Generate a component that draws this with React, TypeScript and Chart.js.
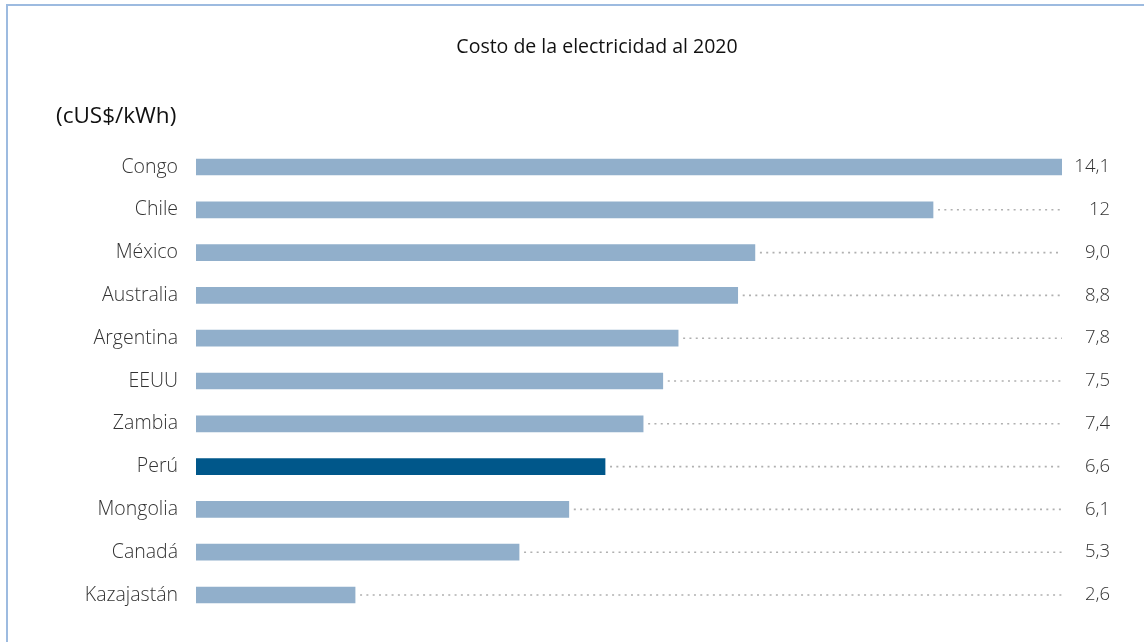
import React, { useEffect, useRef } from "react";
import { Chart, registerables } from "chart.js";

Chart.register(...registerables);

const titleText = "Costo de la electricidad al 2020";
const unitText = "(cUS$/kWh)";
const categories = ["Congo", "Chile", "México", "Australia", "Argentina", "EEUU", "Zambia", "Perú", "Mongolia", "Canadá", "Kazajastán"];
// bar lengths as drawn in the picture
const barValues = [14.1, 12.0, 9.1, 8.82, 7.85, 7.6, 7.28, 6.66, 6.07, 5.26, 2.59];
// printed value labels
const valueLabels = ["14,1", "12", "9,0", "8,8", "7,8", "7,5", "7,4", "6,6", "6,1", "5,3", "2,6"];
const highlight = "Perú";
const axisMax = 14.1;

const FONT = "'Open Sans', 'Segoe UI', 'Noto Sans', sans-serif";

export default function App() {
  const ref = useRef<HTMLCanvasElement | null>(null);
  useEffect(() => {
    if (!ref.current) return;
    const textPlugin = {
      id: "textPlugin",
      afterDatasetsDraw(chart: any) {
        const ctx = chart.ctx;
        const area = chart.chartArea;
        const meta = chart.getDatasetMeta(0);
        ctx.save();
        // dotted leader lines
        ctx.strokeStyle = "#b0b0b0";
        ctx.lineWidth = 1.6;
        ctx.setLineDash([2, 4.3]);
        meta.data.forEach((bar: any) => {
          const start = bar.x + 5;
          if (start < area.right - 2) {
            ctx.beginPath();
            ctx.moveTo(start, bar.y);
            ctx.lineTo(area.right, bar.y);
            ctx.stroke();
          }
        });
        ctx.setLineDash([]);
        // category labels
        ctx.fillStyle = "#333333";
        ctx.font = `300 19.5px ${FONT}`;
        ctx.textBaseline = "middle";
        ctx.textAlign = "right";
        meta.data.forEach((bar: any, i: number) => {
          ctx.fillText(categories[i], area.left - 18, bar.y);
        });
        // value labels
        ctx.font = `300 18.5px ${FONT}`;
        ctx.textAlign = "right";
        meta.data.forEach((bar: any, i: number) => {
          ctx.fillText(valueLabels[i], area.right + 48, bar.y);
        });
        // title
        ctx.fillStyle = "#111111";
        ctx.font = `400 19.5px ${FONT}`;
        ctx.textAlign = "center";
        ctx.fillText(titleText, 597, 47);
        // unit
        ctx.textAlign = "left";
        ctx.font = `400 22.5px ${FONT}`;
        ctx.fillText(unitText, 56, 117);
        ctx.restore();
      },
    };
    const chart = new Chart(ref.current, {
      type: "bar",
      data: {
        labels: categories,
        datasets: [
          {
            data: barValues,
            backgroundColor: categories.map((c) => (c === highlight ? "#00578a" : "#91afcb")),
            barThickness: 16,
            borderWidth: 0,
          },
        ],
      },
      options: {
        indexAxis: "y",
        animation: false,
        responsive: false,
        layout: { padding: { left: 196, right: 82, top: 145.6, bottom: 25.6 } },
        plugins: { legend: { display: false }, tooltip: { enabled: false }, title: { display: false } },
        scales: {
          x: { display: false, min: 0, max: axisMax },
          y: { display: false, offset: true },
        },
      },
      plugins: [textPlugin],
    } as any);
    return () => chart.destroy();
  }, []);
  return (
    <div style={{ position: "fixed", left: 0, top: 0, width: 1144, height: 642, background: "#fff" }}>
      <div
        style={{
          position: "absolute",
          left: 6,
          top: 4,
          width: 1150,
          height: 650,
          borderLeft: "2px solid #9dbbe0",
          borderTop: "2px solid #9dbbe0",
        }}
      />
      <canvas ref={ref} width={1144} height={642} style={{ position: "absolute", left: 0, top: 0 }} />
    </div>
  );
}
